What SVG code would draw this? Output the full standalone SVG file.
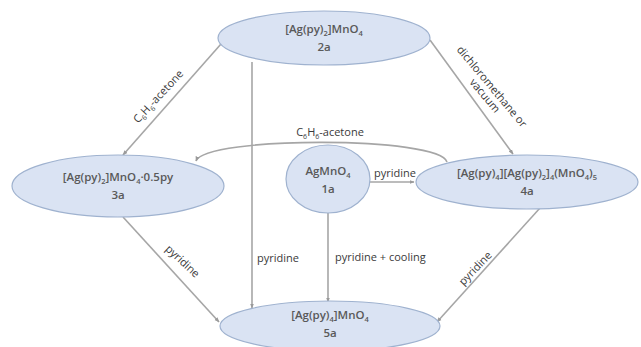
<svg xmlns="http://www.w3.org/2000/svg" width="641" height="347" viewBox="0 0 641 347">
<defs>
<marker id="ah" viewBox="0 0 10 10" refX="9" refY="5" markerWidth="5" markerHeight="5" orient="auto" markerUnits="userSpaceOnUse">
<path d="M0,1 L10,5 L0,9 z" fill="#9a9a9a"/>
</marker>
<style>
.node ellipse{fill:#dae3f3;stroke:#9fb2cf;stroke-width:1.2}
.nt{font-family:"Open Sans","Liberation Sans",sans-serif;font-size:11.5px;fill:#595959;text-anchor:middle;font-weight:600}
.lbl{font-family:"Open Sans","Liberation Sans",sans-serif;font-size:11px;fill:#3a3a3a}
.edges line,.edges path{stroke:#a6a6a6;stroke-width:1.6;fill:none;marker-end:url(#ah)}
</style>
</defs>
<rect width="641" height="347" fill="#ffffff"/>
<g class="edges" id="connectors">
<line x1="221" y1="44" x2="123" y2="155"/>
<line x1="252" y1="62" x2="252" y2="308"/>
<line x1="430" y1="40" x2="513" y2="154"/>
<line x1="123" y1="217" x2="219" y2="322"/>
<line x1="540" y1="208" x2="437" y2="322"/>
<line x1="370" y1="182" x2="414" y2="182"/>
<line x1="328" y1="212" x2="328" y2="302"/>
<path d="M447,162 C440,136 205,136 196,161"/>
</g>
<g class="labels">
<text class="lbl" transform="translate(161,99) rotate(-47)" text-anchor="middle">C<tspan font-size="7" dy="3">6</tspan><tspan dy="-3">H</tspan><tspan font-size="7" dy="3">6</tspan><tspan dy="-3">-acetone</tspan></text>
<text class="lbl" transform="translate(489,89) rotate(50)" text-anchor="middle">dichloromethane or</text>
<text class="lbl" transform="translate(482,98) rotate(50)" text-anchor="middle">vacuum</text>
<text class="lbl" x="330" y="136" text-anchor="middle">C<tspan font-size="7" dy="3">6</tspan><tspan dy="-3">H</tspan><tspan font-size="7" dy="3">6</tspan><tspan dy="-3">-acetone</tspan></text>
<text class="lbl" x="395" y="177" text-anchor="middle">pyridine</text>
<text class="lbl" x="257" y="262">pyridine</text>
<text class="lbl" x="335" y="261">pyridine + cooling</text>
<text class="lbl" transform="translate(180,264) rotate(43)" text-anchor="middle">pyridine</text>
<text class="lbl" transform="translate(478,271) rotate(-46)" text-anchor="middle">pyridine</text>
</g>
<g class="node" id="n2a">
<ellipse cx="324" cy="38" rx="106" ry="27"/>
<text class="nt" x="324" y="33">[Ag(py)<tspan font-size="7.5" dy="3">2</tspan><tspan dy="-3">]MnO</tspan><tspan font-size="7.5" dy="3">4</tspan></text>
<text class="nt" x="324" y="51">2a</text>
</g>
<g class="node" id="n3a">
<ellipse cx="118" cy="186" rx="106" ry="31"/>
<text class="nt" x="118" y="181">[Ag(py)<tspan font-size="7.5" dy="3">2</tspan><tspan dy="-3">]MnO</tspan><tspan font-size="7.5" dy="3">4</tspan><tspan dy="-3">·0.5py</tspan></text>
<text class="nt" x="118" y="199">3a</text>
</g>
<g class="node" id="n1a">
<ellipse cx="328" cy="179" rx="42" ry="34"/>
<text class="nt" x="328" y="175">AgMnO<tspan font-size="7.5" dy="3">4</tspan></text>
<text class="nt" x="328" y="193">1a</text>
</g>
<g class="node" id="n4a">
<ellipse cx="527" cy="182" rx="111" ry="27"/>
<text class="nt" x="527" y="177">[Ag(py)<tspan font-size="7.5" dy="3">4</tspan><tspan dy="-3">][Ag(py)</tspan><tspan font-size="7.5" dy="3">2</tspan><tspan dy="-3">]</tspan><tspan font-size="7.5" dy="3">4</tspan><tspan dy="-3">(MnO</tspan><tspan font-size="7.5" dy="3">4</tspan><tspan dy="-3">)</tspan><tspan font-size="7.5" dy="3">5</tspan></text>
<text class="nt" x="527" y="195">4a</text>
</g>
<g class="node" id="n5a">
<ellipse cx="330" cy="326" rx="110" ry="25"/>
<text class="nt" x="330" y="319">[Ag(py)<tspan font-size="7.5" dy="3">4</tspan><tspan dy="-3">]MnO</tspan><tspan font-size="7.5" dy="3">4</tspan></text>
<text class="nt" x="330" y="337">5a</text>
</g>
</svg>
